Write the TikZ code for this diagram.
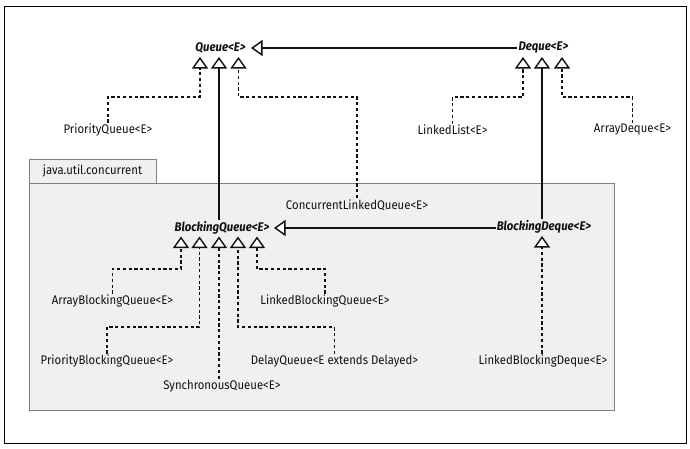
\documentclass[tikz,border=0pt]{standalone}
\usepackage{fontspec}
\setmainfont{Fira Sans}[FakeStretch=0.91]
\usetikzlibrary{arrows.meta}
\definecolor{pkgfill}{HTML}{F0F0F0}
\definecolor{pkgline}{HTML}{808080}
\definecolor{ink}{HTML}{111111}
\begin{document}
\begin{tikzpicture}[x=1pt,y=-1pt,
  cls/.style={font=\fontsize{12.5}{14}\selectfont, text=ink, inner sep=1pt},
  iface/.style={font=\fontsize{12.5}{14}\selectfont\bfseries\itshape, text=ink, inner sep=1pt},
  tip/.style={-{Triangle[width=16pt,length=11.5pt,fill=white,line width=1.4pt]}},
  extends/.style={tip, line width=1.3pt, draw=ink},
  impl/.style={tip, line width=1.25pt, draw=ink, dash pattern=on 3.2pt off 2.6pt},
  pkg/.style={draw=pkgline, fill=pkgfill, line width=0.9pt}
]
% frame and page margins
\useasboundingbox (0,0) rectangle (690,448);
\draw[line width=1pt] (4,6) rectangle (686,443);

% java.util.concurrent package
\draw[pkg] (29,183) rectangle (614,410);
\draw[pkg] (29,159) rectangle (156,183);
\node[cls] (pkgname) at (92.5,171) {java.util.concurrent};

% interfaces
\node[iface] (Q)  at (220.5,48)  {Queue<E>};
\node[iface] (D)  at (543.5,48) {Deque<E>};
\node[iface] (BQ) at (222,228) {BlockingQueue<E>};
\node[iface] (BD) at (544,227) {BlockingDeque<E>};

% implementing classes
\node[cls] (PQ)   at (108,130) {PriorityQueue<E>};
\node[cls] (LL)   at (452.5,130) {LinkedList<E>};
\node[cls] (AD)   at (632.5,130) {ArrayDeque<E>};
\node[cls] (CLQ)  at (357,205) {ConcurrentLinkedQueue<E>};
\node[cls] (ABQ)  at (112.5,301) {ArrayBlockingQueue<E>};
\node[cls] (LBQ)  at (325,301) {LinkedBlockingQueue<E>};
\node[cls] (PBQ)  at (107,361) {PriorityBlockingQueue<E>};
\node[cls] (DQ)   at (334.5,361) {DelayQueue<E extends Delayed>};
\node[cls] (SQ)   at (222,386) {SynchronousQueue<E>};
\node[cls] (LBD)  at (543,361) {LinkedBlockingDeque<E>};

% arrow tip points below the interface names
\coordinate (q1) at (200,57);
\coordinate (q2) at (219,57);
\coordinate (q3) at (238.5,57);
\coordinate (d1) at (523,57);
\coordinate (d2) at (542,57);
\coordinate (d3) at (562,57);
\coordinate (b1) at (181,236.5);
\coordinate (b2) at (199.5,236.5);
\coordinate (b3) at (219,236.5);
\coordinate (b4) at (238,236.5);
\coordinate (b5) at (257,236.5);
\coordinate (bd) at (542,236);
\coordinate (qe) at (251,48);
\coordinate (bqe) at (274,228);

% interface inheritance
\draw[extends] (D.west) -- (qe);
\draw[extends] (BD.west |- bqe) -- (bqe);
\draw[extends] (BQ.north -| q2) -- (q2);
\draw[extends] (BD.north -| d2) -- (d2);

% Queue and Deque implementations
\draw[impl] (PQ.north) |- (q1 |- 0,97) -- (q1);
\draw[impl] (CLQ.north) |- (q3 |- 0,97) -- (q3);
\draw[impl] (LL.north) |- (d1 |- 0,97) -- (d1);
\draw[impl] (AD.north) |- (d3 |- 0,97) -- (d3);

% BlockingQueue implementations
\draw[impl] (ABQ.north) |- (b1 |- 0,269) -- (b1);
\draw[impl] (PBQ.north) |- (b2 |- 0,327) -- (b2);
\draw[impl] (SQ.north -| b3) -- (b3);
\draw[impl] (DQ.north) |- (b4 |- 0,327) -- (b4);
\draw[impl] (LBQ.north) |- (b5 |- 0,269) -- (b5);

% BlockingDeque implementation
\draw[impl] (LBD.north -| bd) -- (bd);
\end{tikzpicture}
\end{document}
